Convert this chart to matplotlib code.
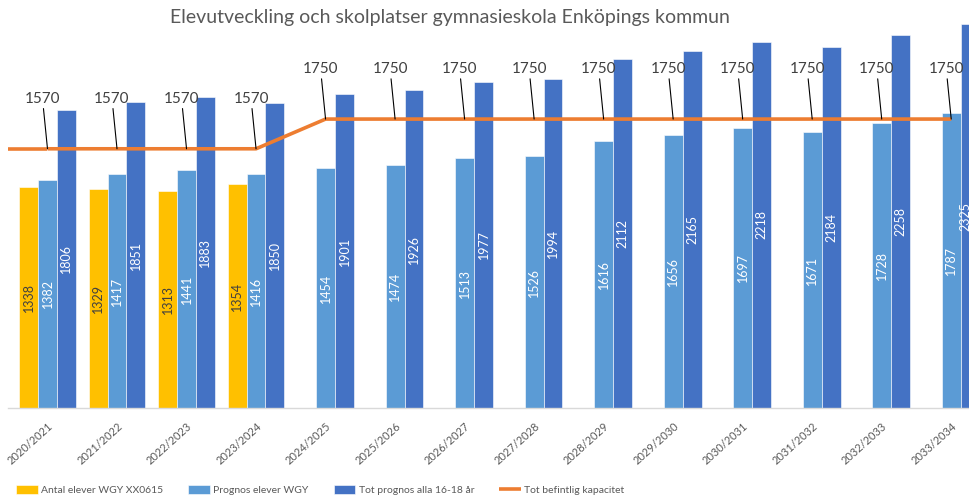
import matplotlib
matplotlib.use("Agg")
import matplotlib.pyplot as plt
import numpy as np

plt.rcParams['font.family'] = ['Lato', 'DejaVu Sans']

years = ["2020/2021", "2021/2022", "2022/2023", "2023/2024", "2024/2025", "2025/2026",
         "2026/2027", "2027/2028", "2028/2029", "2029/2030", "2030/2031", "2031/2032",
         "2032/2033", "2033/2034"]
antal = [1338, 1329, 1313, 1354]
prognos = [1382, 1417, 1441, 1416, 1454, 1474, 1513, 1526, 1616, 1656, 1697, 1671, 1728, 1787]
tot_prognos = [1806, 1851, 1883, 1850, 1901, 1926, 1977, 1994, 2112, 2165, 2218, 2184, 2258, 2325]
kapacitet = [1570, 1570, 1570, 1570, 1750, 1750, 1750, 1750, 1750, 1750, 1750, 1750, 1750, 1750]

yellow = "#FFC000"
light = "#5B9BD5"
dark = "#4472C4"
orange = "#ED7D31"
textgray = "#595959"

fig = plt.figure(figsize=(9.7, 4.97), dpi=100)
ax = fig.add_axes([8 / 970, 1 - 408 / 497, 1 - 8 / 970, 388 / 497])

x = np.arange(len(years))
w = 0.272
b1 = ax.bar(x[:len(antal)] - w, antal, w, color=yellow, edgecolor="white", linewidth=0.4,
            label="Antal elever WGY XX0615", zorder=2)
b2 = ax.bar(x, prognos, w, color=light, edgecolor="white", linewidth=0.4,
            label="Prognos elever WGY", zorder=2)
b3 = ax.bar(x + w, tot_prognos, w, color=dark, edgecolor="white", linewidth=0.4,
            label="Tot prognos alla 16-18 år", zorder=2)

ax.bar_label(b1, label_type="center", rotation=90, fontsize=9, color="#404040")
ax.bar_label(b2, label_type="center", rotation=90, fontsize=9, color="white")
ax.bar_label(b3, label_type="center", rotation=90, fontsize=9, color="white")

xl = (-0.568, 13.27)
ax.plot(x, kapacitet, color=orange, linewidth=2.6, zorder=4, label="Tot befintlig kapacitet",
        solid_capstyle="butt")
# Excel draws the line out to the left edge of the plot area
ax.plot([xl[0], x[0]], [kapacitet[0], kapacitet[0]], color=orange, linewidth=2.6, zorder=4,
        solid_capstyle="butt")

for xi, v in zip(x, kapacitet):
    ax.annotate(str(v), xy=(xi, v), xytext=(-5, 50), textcoords="offset pixels",
                ha="center", va="center", fontsize=11, color="#404040", zorder=5,
                arrowprops=dict(arrowstyle="-", color="black", lw=0.8,
                                shrinkA=0, shrinkB=0))

ax.set_xlim(*xl)
ax.set_ylim(0, 2350)
ax.set_xticks(x)
ax.set_xticklabels(years, rotation=42, ha="right", rotation_mode="anchor",
                   fontsize=8, color=textgray)
ax.tick_params(axis="x", length=0, pad=9)
ax.set_yticks([])
for s in ["top", "right", "left"]:
    ax.spines[s].set_visible(False)
ax.spines["bottom"].set_color("#D9D9D9")
ax.spines["bottom"].set_linewidth(1)

fig.text(450 / 970, 1 - 18 / 497, "Elevutveckling och skolplatser gymnasieskola Enköpings kommun",
         ha="center", va="center", fontsize=14, color=textgray)

handles, labels = ax.get_legend_handles_labels()
order = ["Antal elever WGY XX0615", "Prognos elever WGY", "Tot prognos alla 16-18 år",
         "Tot befintlig kapacitet"]
hmap = dict(zip(labels, handles))
fig.legend([hmap[k] for k in order], order, loc="center left",
           bbox_to_anchor=(12 / 970, 1 - 490 / 497), ncol=4, frameon=False,
           fontsize=7.5, labelcolor=textgray, handlelength=2.1, handleheight=0.9,
           handletextpad=0.3, columnspacing=2.4, borderaxespad=0)

fig.savefig("out.png", dpi=100)
